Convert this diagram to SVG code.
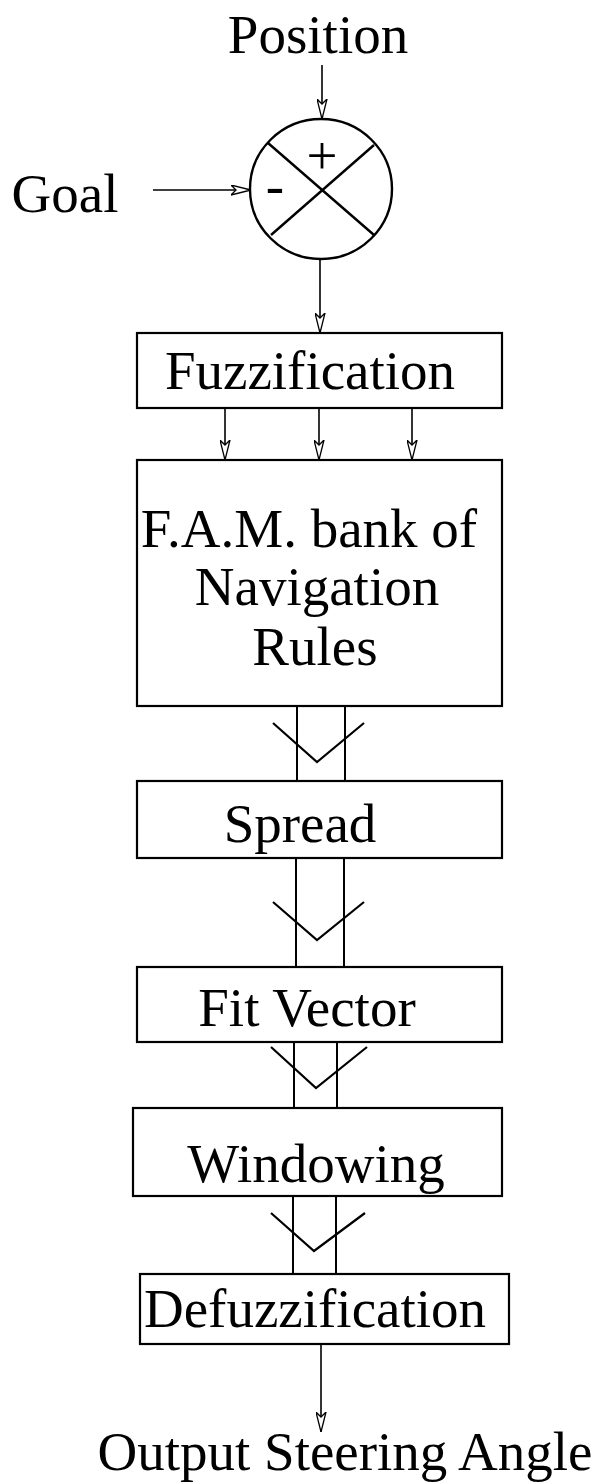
<svg xmlns="http://www.w3.org/2000/svg" width="595" height="1482" viewBox="0 0 595 1482">
<style>
  .t { font-family: "Liberation Serif", "Times New Roman", serif; font-size: 55px; fill: #000; text-anchor: middle; }
  .box { fill: #fff; stroke: #000; stroke-width: 2.2; }
  .ln { stroke: #000; stroke-width: 1.6; fill: none; }
  .dbl { stroke: #000; stroke-width: 2; fill: none; }
  .chev { stroke: #000; stroke-width: 2.2; fill: none; stroke-linejoin: miter; }
</style>
<defs>
  <marker id="ah" viewBox="0 0 20 11" refX="20" refY="5.5" markerWidth="20" markerHeight="11" markerUnits="userSpaceOnUse" orient="auto">
    <path d="M0,0.5 L20,5.5 L0,10.5 L5,5.5 Z" fill="#fff" stroke="#000" stroke-width="1.3"/>
  </marker>
</defs>

<g id="connectors">
  <line class="ln" x1="322" y1="65" x2="322" y2="119" marker-end="url(#ah)"/>
  <line class="ln" x1="153" y1="190" x2="251" y2="190" marker-end="url(#ah)"/>
  <line class="ln" x1="320" y1="259" x2="320" y2="333" marker-end="url(#ah)"/>
  <line class="ln" x1="225" y1="408" x2="225" y2="460" marker-end="url(#ah)"/>
  <line class="ln" x1="319" y1="408" x2="319" y2="460" marker-end="url(#ah)"/>
  <line class="ln" x1="412" y1="408" x2="412" y2="460" marker-end="url(#ah)"/>
  <!-- FAM -> Spread -->
  <path class="dbl" d="M297,706 V781 M345,706 V781"/>
  <polyline class="chev" points="273,723 317,762 364,723"/>
  <!-- Spread -> Fit Vector -->
  <path class="dbl" d="M296,858 V967 M344,858 V967"/>
  <polyline class="chev" points="273,902 317,940 364,902"/>
  <!-- Fit Vector -> Windowing -->
  <path class="dbl" d="M294,1042 V1108 M337,1042 V1108"/>
  <polyline class="chev" points="271,1047 316,1088 367,1047"/>
  <!-- Windowing -> Defuzzification -->
  <path class="dbl" d="M293,1196 V1274 M336,1196 V1274"/>
  <polyline class="chev" points="271,1213 314,1251 365,1213"/>
  <line class="ln" x1="321" y1="1344" x2="321" y2="1432" marker-end="url(#ah)"/>
</g>

<g id="position-label"><text class="t" x="318" y="53">Position</text></g>
<g id="goal-label"><text class="t" x="65" y="212" font-size="54">Goal</text></g>

<g id="summing-junction">
  <ellipse cx="321" cy="189" rx="71" ry="70" fill="none" stroke="#000" stroke-width="2.4"/>
  <line x1="268" y1="143" x2="374" y2="235" stroke="#000" stroke-width="2.4"/>
  <line x1="374" y1="145" x2="271" y2="235" stroke="#000" stroke-width="2.4"/>
  <text class="t" x="322" y="174" font-size="52">+</text>
  <text class="t" x="275" y="204" font-size="44">-</text>
</g>

<g id="fuzzification">
  <rect class="box" x="137" y="333" width="365" height="75"/>
  <text class="t" x="310" y="389">Fuzzification</text>
</g>

<g id="fam">
  <rect class="box" x="137" y="460" width="365" height="246"/>
  <text class="t" x="309" y="547">F.A.M. bank of</text>
  <text class="t" x="317" y="605">Navigation</text>
  <text class="t" x="315" y="665">Rules</text>
</g>

<g id="spread">
  <rect class="box" x="137" y="781" width="365" height="77"/>
  <text class="t" x="300" y="842">Spread</text>
</g>

<g id="fit-vector">
  <rect class="box" x="137" y="967" width="365" height="75"/>
  <text class="t" x="307" y="1026">Fit Vector</text>
</g>

<g id="windowing">
  <rect class="box" x="133" y="1108" width="369" height="88"/>
  <text class="t" x="316" y="1182">Windowing</text>
</g>

<g id="defuzzification">
  <rect class="box" x="140" y="1274" width="369" height="70"/>
  <text class="t" x="315" y="1327">Defuzzification</text>
</g>

<g id="output-label"><text class="t" x="345" y="1470" font-size="53">Output Steering Angle</text></g>
</svg>
